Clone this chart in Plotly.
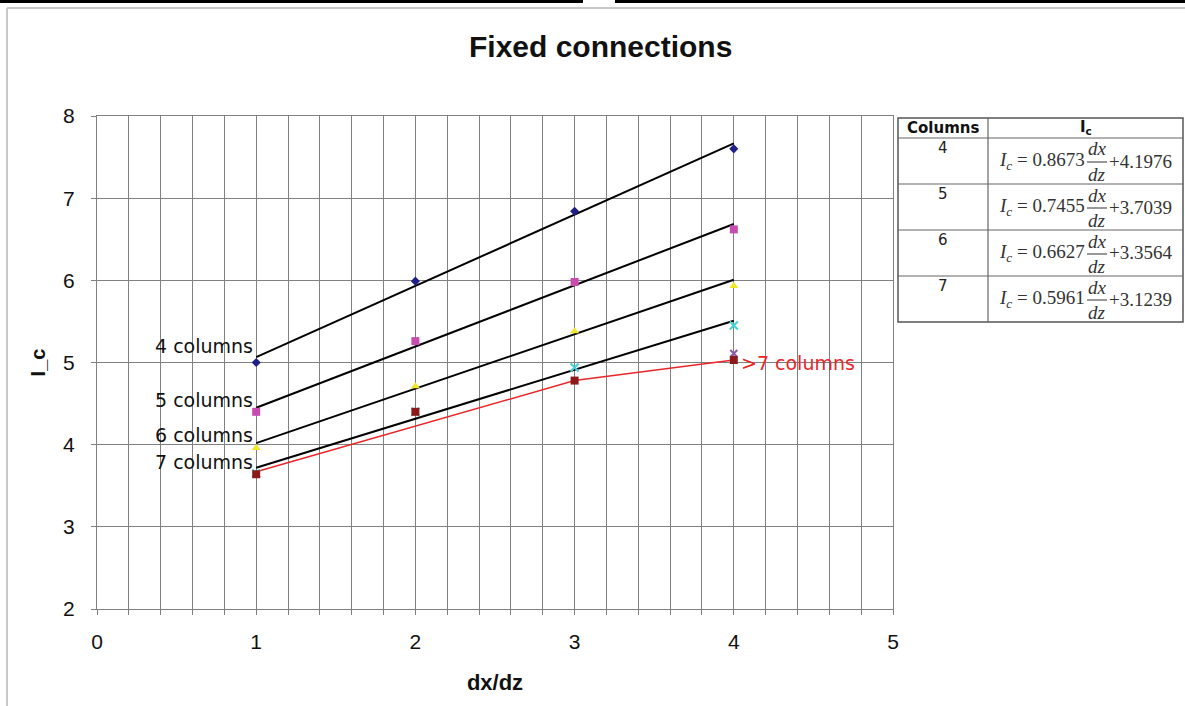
import plotly.graph_objects as go

# ---------------- data ----------------
x_vals = [1, 2, 3, 4]
y_4col = [5.00, 5.99, 6.84, 7.60]
y_5col = [4.40, 5.26, 5.98, 6.62]
y_6col = [3.96, 4.71, 5.38, 5.93]
y_7col = [3.65, 4.40, 4.94, 5.45]
y_gt7 = [3.64, 4.40, 4.78, 5.03]
x_gt7_line = [1, 3, 4]
y_gt7_line = [3.67, 4.78, 5.03]
x_extra = [4]
y_extra = [5.11]

columns = ["4", "5", "6", "7"]
slopes = [0.8673, 0.7455, 0.6627, 0.5961]
intercepts = [4.1976, 3.7039, 3.3564, 3.1239]
fit_x = [1, 4]

label_text = ["4 columns", "5 columns", "6 columns", "7 columns"]
label_y = [5.20, 4.54, 4.12, 3.79]

W, H = 1185, 706
L, R, T, B = 97, 893, 116, 609


def px(xp):
    return (xp - L) / (R - L)


def py(yp):
    return (B - yp) / (B - T)


fig = go.Figure()

# regression lines
for s, c in zip(slopes, intercepts):
    fig.add_trace(go.Scatter(x=fit_x, y=[s * v + c for v in fit_x], mode="lines",
                             line=dict(color="black", width=2), showlegend=False,
                             hoverinfo="skip"))

fig.add_trace(go.Scatter(x=x_gt7_line, y=y_gt7_line, mode="lines",
                         line=dict(color="#e8262a", width=1.5), showlegend=False))

fig.add_trace(go.Scatter(x=x_vals, y=y_4col, mode="markers",
                         marker=dict(symbol="diamond", color="#1f1f8a", size=7), showlegend=False))
fig.add_trace(go.Scatter(x=x_vals, y=y_5col, mode="markers",
                         marker=dict(symbol="square", color="#c84bb0", size=8), showlegend=False))
fig.add_trace(go.Scatter(x=x_vals, y=y_6col, mode="markers",
                         marker=dict(symbol="triangle-up", color="#f2e62a", size=8), showlegend=False))
fig.add_trace(go.Scatter(x=x_vals, y=y_7col, mode="markers",
                         marker=dict(symbol="x-thin-open", color="#45cfd8", size=8,
                                     line=dict(width=2, color="#45cfd8")), showlegend=False))
fig.add_trace(go.Scatter(x=x_extra, y=y_extra, mode="markers",
                         marker=dict(symbol="x-thin-open", color="#8a5aa8", size=7,
                                     line=dict(width=2, color="#8a5aa8")), showlegend=False))
fig.add_trace(go.Scatter(x=x_vals, y=y_gt7, mode="markers",
                         marker=dict(symbol="square", color="#8b1a1a", size=8), showlegend=False))

annotations = []
for t, yv in zip(label_text, label_y):
    annotations.append(dict(x=1, y=yv, xref="x", yref="y", text=t, showarrow=False,
                            xanchor="right", yanchor="middle", xshift=-1,
                            font=dict(family="DejaVu Sans", size=19, color="#111")))
annotations.append(dict(x=4, y=5.0, xref="x", yref="y", text=">7 columns", showarrow=False,
                        xanchor="left", yanchor="middle", xshift=5,
                        font=dict(family="DejaVu Sans", size=19, color="#e8262a")))

# title
annotations.append(dict(x=px(600), y=py(46), xref="paper", yref="paper",
                        text="<b>Fixed connections</b>", showarrow=False,
                        xanchor="center", yanchor="middle",
                        font=dict(family="Liberation Sans", size=30, color="#111")))

shapes = []
# page frame
shapes.append(dict(type="rect", xref="paper", yref="paper", x0=px(0), x1=px(583),
                   y0=py(0), y1=py(3), fillcolor="black", line=dict(width=0), layer="above"))
shapes.append(dict(type="rect", xref="paper", yref="paper", x0=px(615), x1=px(1185),
                   y0=py(0), y1=py(3), fillcolor="black", line=dict(width=0), layer="above"))
shapes.append(dict(type="line", xref="paper", yref="paper", x0=px(7), x1=px(1185),
                   y0=py(8), y1=py(8), line=dict(color="#c8c8c8", width=2)))
shapes.append(dict(type="line", xref="paper", yref="paper", x0=px(7), x1=px(7),
                   y0=py(8), y1=py(706), line=dict(color="#c8c8c8", width=2)))

# table
tx0, tx1, tmid = 898, 1183, 988
ty0, yhead = 118, 138
row_h = 46
tb = yhead + row_h * len(columns)
shapes.append(dict(type="rect", xref="paper", yref="paper", x0=px(tx0), x1=px(tx1),
                   y0=py(ty0), y1=py(tb), line=dict(color="#555", width=1.5)))
shapes.append(dict(type="line", xref="paper", yref="paper", x0=px(tmid), x1=px(tmid),
                   y0=py(ty0), y1=py(tb), line=dict(color="#666", width=1.2)))
for k in range(len(columns)):
    yy = yhead + row_h * k
    shapes.append(dict(type="line", xref="paper", yref="paper", x0=px(tx0), x1=px(tx1),
                       y0=py(yy), y1=py(yy), line=dict(color="#666", width=1.2)))

annotations.append(dict(x=px((tx0 + tmid) / 2), y=py(128), xref="paper", yref="paper",
                        text="<b>Columns</b>", showarrow=False, xanchor="center", yanchor="middle",
                        font=dict(family="DejaVu Sans", size=15, color="#111")))
annotations.append(dict(x=px((tmid + tx1) / 2), y=py(127), xref="paper", yref="paper",
                        text="<b>I<sub>c</sub></b>", showarrow=False, xanchor="center",
                        yanchor="middle", font=dict(family="DejaVu Sans", size=15, color="#111")))

serif = dict(family="Liberation Serif", size=19, color="#333")
for k, (col, s, c) in enumerate(zip(columns, slopes, intercepts)):
    top = yhead + row_h * k
    annotations.append(dict(x=px((tx0 + tmid) / 2), y=py(top + 10), xref="paper", yref="paper",
                            text=col, showarrow=False, xanchor="center", yanchor="middle",
                            font=dict(family="DejaVu Sans", size=15, color="#222")))
    annotations.append(dict(x=px(1087), y=py(top + 23), xref="paper", yref="paper",
                            text=f"<i>I</i><sub><i>c</i></sub> = {s:.4f}", showarrow=False,
                            xanchor="right", yanchor="middle", font=serif))
    annotations.append(dict(x=px(1097), y=py(top + 11), xref="paper", yref="paper",
                            text="<i>dx</i>", showarrow=False, xanchor="center",
                            yanchor="middle", font=serif))
    annotations.append(dict(x=px(1097), y=py(top + 36), xref="paper", yref="paper",
                            text="<i>dz</i>", showarrow=False, xanchor="center",
                            yanchor="middle", font=serif))
    shapes.append(dict(type="line", xref="paper", yref="paper", x0=px(1087), x1=px(1107),
                       y0=py(top + 24), y1=py(top + 24), line=dict(color="#333", width=1)))
    annotations.append(dict(x=px(1107), y=py(top + 23), xref="paper", yref="paper",
                            text=f"+{c:.4f}", showarrow=False, xanchor="left",
                            yanchor="middle", font=serif))

fig.update_layout(
    width=W, height=H,
    margin=dict(l=L, r=W - R, t=T, b=H - B),
    paper_bgcolor="white", plot_bgcolor="white",
    showlegend=False,
    annotations=annotations, shapes=shapes,
    xaxis=dict(range=[0, 5], dtick=1, tick0=0, showgrid=True, gridcolor="#808080", gridwidth=1,
               minor=dict(dtick=0.2, showgrid=True, gridcolor="#808080", gridwidth=1,
                          ticks="outside", ticklen=5, tickcolor="#808080"),
               ticks="outside", ticklen=5, tickcolor="#808080",
               showline=True, linecolor="#808080", linewidth=1, mirror=True, zeroline=False,
               tickfont=dict(family="Liberation Sans", size=21, color="#111"),
               ticklabelstandoff=9,
               title=dict(text="<b>dx/dz</b>", standoff=22,
                          font=dict(family="Liberation Sans", size=22, color="#111"))),
    yaxis=dict(range=[2, 8], dtick=1, showgrid=True, gridcolor="#808080", gridwidth=1,
               ticks="outside", ticklen=5, tickcolor="#808080",
               showline=True, linecolor="#808080", linewidth=1, mirror=True, zeroline=False,
               tickfont=dict(family="Liberation Sans", size=21, color="#111"),
               ticklabelstandoff=12,
               title=dict(text="<b>I_c</b>", standoff=12,
                          font=dict(family="Liberation Sans", size=20, color="#111"))),
)

fig.write_html("out.html", config={"displayModeBar": False},
               post_script="document.body.style.margin='0px';")
